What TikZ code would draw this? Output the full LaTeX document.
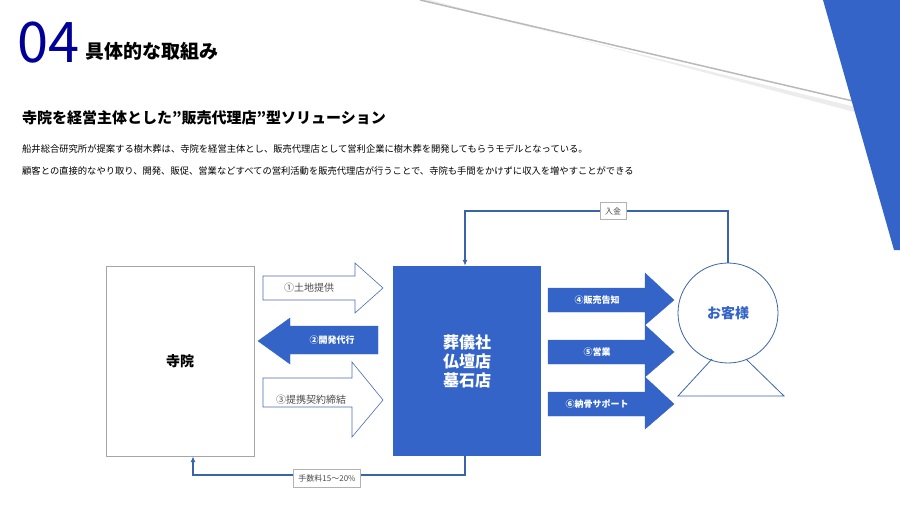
\documentclass[tikz,border=0pt]{standalone}
\usepackage{fontspec}
\setmainfont{Noto Sans CJK JP}
\usetikzlibrary{positioning,arrows.meta}
\definecolor{mainblue}{HTML}{3464C8}
\definecolor{lineblue}{HTML}{3A64A8}
\tikzset{
	outarrow/.style={draw=mainblue!70!gray, fill=white, line width=0.6pt},
	fillarrow/.style={fill=mainblue, draw=mainblue},
	flow/.style={draw=lineblue, line width=1.2pt, -{Latex[length=6pt,width=5pt]}},
	labelbox/.style={draw=gray!60, fill=white, font=\fontsize{8}{9}\selectfont, text=black!70, inner sep=5pt}
}
\begin{document}
\begin{tikzpicture}[x=1pt,y=-1pt]
	\useasboundingbox (0,0) rectangle (900,509);
	%background
	\fill[gray!15] (420,0) -- (900,118) -- (900,124) -- (430,0) -- cycle;
	\draw[gray!55, line width=1.5pt] (420,0) -- (900,112);
	\fill[mainblue] (823,0) -- (900,0) -- (900,250) -- (894,250) -- cycle;
	%titles
	\node[anchor=base west, inner sep=0, text=blue!60!black, font=\fontsize{56}{56}\selectfont] (num) at (17,62) {04};
	\node[anchor=base west, inner sep=0, font=\fontsize{19}{20}\selectfont\bfseries] (ttl) at (85,58) {具体的な取組み};
	\node[anchor=base west, inner sep=0, font=\fontsize{15}{16}\selectfont\bfseries] (sub) at (22,123) {寺院を経営主体とした”販売代理店”型ソリューション};
	\node[anchor=base west, inner sep=0, font=\fontsize{9.3}{10}\selectfont] (p1) at (22,152) {船井総合研究所が提案する樹木葬は、寺院を経営主体とし、販売代理店として営利企業に樹木葬を開発してもらうモデルとなっている。};
	\node[anchor=base west, inner sep=0, font=\fontsize{9.3}{10}\selectfont] (p2) at (22,174) {顧客との直接的なやり取り、開発、販促、営業などすべての営利活動を販売代理店が行うことで、寺院も手間をかけずに収入を増やすことができる};
	%boxes
	\node[draw=gray!70, minimum width=148, minimum height=190, font=\fontsize{14}{16}\selectfont\bfseries] (tera) at (180,361) {寺院};
	\node[fill=mainblue, minimum width=148, minimum height=190, text=white, align=center, font=\fontsize{16}{19}\selectfont\bfseries] (shop) at (467,361) {葬儀社\\仏壇店\\墓石店};
	\node[circle, draw=lineblue, line width=0.8pt, minimum size=100, text=mainblue, font=\fontsize{14}{16}\selectfont\bfseries] (kyaku) at (728,313) {お客様};
	\draw[lineblue, line width=0.8pt] (712,359) -- (678,396) -- (784,396) -- (746,359);
	%arrows left
	\draw[outarrow] (263,276) -- (355,276) -- (355,263) -- (383,288) -- (355,313) -- (355,300) -- (263,300) -- cycle;
	\node[font=\fontsize{10}{11}\selectfont, text=black!70] (a1) at (309,288) {①土地提供};
	\draw[fillarrow] (378,326) -- (290,326) -- (290,318) -- (258,341) -- (290,364) -- (290,354) -- (378,354) -- cycle;
	\node[font=\fontsize{9}{10}\selectfont\bfseries, text=white] (a2) at (332,340) {②開発代行};
	\draw[outarrow] (263,378) -- (352,378) -- (352,362) -- (383,400) -- (352,437) -- (352,407) -- (263,407) -- cycle;
	\node[font=\fontsize{10}{11}\selectfont, text=black!70] (a3) at (311,400) {③提携契約締結};
	%arrows right
	\foreach \y/\txt in {300/④販売告知, 352/⑤営業, 404/⑥納骨サポート}{
		\draw[fillarrow] (548,\y-12) -- (645,\y-12) -- (645,\y-27) -- (674,\y) -- (645,\y+25) -- (645,\y+12) -- (548,\y+12) -- cycle;
		\node[font=\fontsize{9}{10}\selectfont\bfseries, text=white] at (597,\y) {\txt};
	}
	%money
	\coordinate (topr) at (728,211);
	\coordinate (topl) at (465,211);
	\draw[flow] (kyaku.north) -- (topr) -- (topl) -- (shop.north -| topl);
	\node[labelbox] (nyukin) at (613,211) {入金};
	\coordinate (botr) at (465,475);
	\coordinate (botl) at (193,475);
	\draw[flow] (shop.south -| botr) -- (botr) -- (botl) -- (tera.south -| botl);
	\node[labelbox] (fee) at (327,478) {手数料15～20\%};
\end{tikzpicture}
\end{document}
